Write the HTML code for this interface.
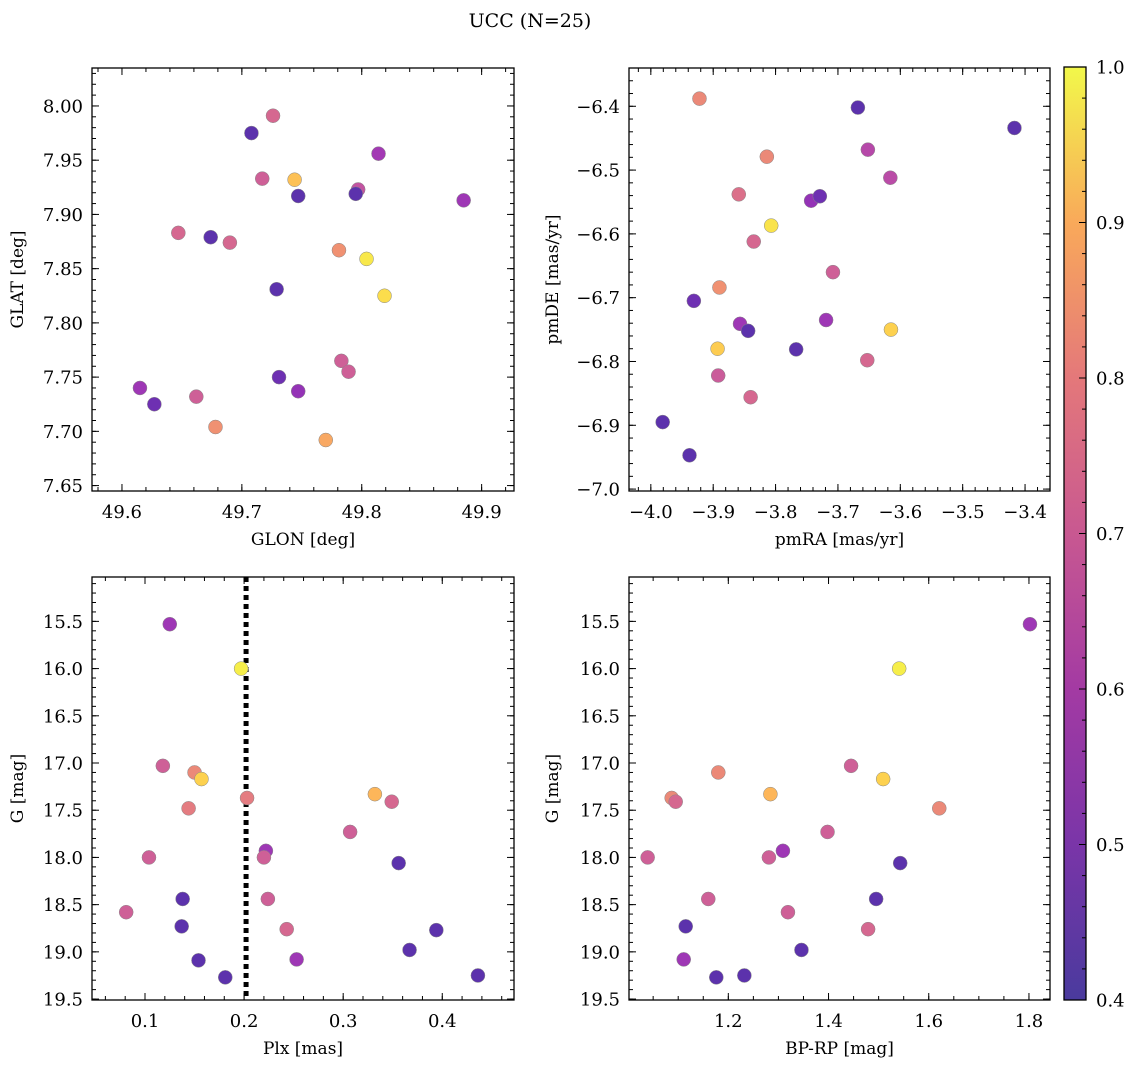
<!DOCTYPE html>
<html><head><meta charset="utf-8">
<style>
html,body{margin:0;padding:0;background:#fff;}
svg{display:block;font-family:"DejaVu Serif","Liberation Serif",serif;}
</style></head>
<body>
<svg id="fig" width="1136" height="1067" viewBox="0 0 1136 1067">
<text x="530" y="27" font-size="19" text-anchor="middle">UCC (N=25)</text>
<defs>
<linearGradient id="cbgrad" x1="0" y1="1" x2="0" y2="0">
<stop offset="0" stop-color="#4a3a9e"/><stop offset="0.167" stop-color="#7a35a8"/>
<stop offset="0.333" stop-color="#a33aa3"/><stop offset="0.5" stop-color="#c85891"/>
<stop offset="0.667" stop-color="#e4787a"/><stop offset="0.833" stop-color="#f9a95a"/>
<stop offset="1" stop-color="#f2f84a"/>
</linearGradient>
</defs>
</svg>
<script>
// ---- data ----
const tlGlon=[49.726,49.708,49.814,49.717,49.744,49.747,49.797,49.795,49.885,49.647,49.674,49.690,49.781,49.804,49.729,49.819,49.615,49.783,49.789,49.731,49.627,49.747,49.662,49.678,49.770];
const tlGlat=[7.991,7.975,7.956,7.933,7.932,7.917,7.923,7.919,7.913,7.883,7.879,7.874,7.867,7.859,7.831,7.825,7.740,7.765,7.755,7.750,7.725,7.737,7.732,7.704,7.692];
const tlProb=[0.70,0.45,0.58,0.68,0.90,0.45,0.65,0.45,0.57,0.70,0.45,0.70,0.80,0.97,0.45,0.95,0.57,0.68,0.68,0.48,0.48,0.55,0.68,0.80,0.85];
const trPmra=[-3.922,-3.668,-3.417,-3.652,-3.616,-3.814,-3.859,-3.743,-3.729,-3.807,-3.835,-3.708,-3.890,-3.931,-3.857,-3.844,-3.615,-3.719,-3.767,-3.893,-3.653,-3.892,-3.840,-3.981,-3.938];
const trPmde=[-6.388,-6.402,-6.434,-6.468,-6.512,-6.479,-6.538,-6.548,-6.541,-6.587,-6.612,-6.660,-6.684,-6.705,-6.741,-6.752,-6.750,-6.735,-6.781,-6.780,-6.798,-6.822,-6.856,-6.895,-6.947];
const trProb=[0.78,0.45,0.45,0.62,0.63,0.78,0.72,0.55,0.48,0.96,0.70,0.68,0.80,0.48,0.57,0.45,0.93,0.57,0.45,0.92,0.70,0.67,0.70,0.45,0.45];
const blPlx=[0.125,0.197,0.118,0.150,0.157,0.144,0.203,0.332,0.349,0.307,0.222,0.220,0.104,0.356,0.138,0.224,0.081,0.137,0.243,0.394,0.367,0.253,0.154,0.181,0.436];
const blG=[15.53,16.00,17.03,17.10,17.17,17.48,17.37,17.33,17.41,17.73,17.93,18.00,18.00,18.06,18.44,18.44,18.58,18.73,18.76,18.77,18.98,19.08,19.09,19.27,19.25];
const blProb=[0.57,0.98,0.68,0.78,0.93,0.75,0.75,0.88,0.70,0.68,0.57,0.68,0.68,0.45,0.45,0.68,0.68,0.45,0.70,0.45,0.45,0.57,0.45,0.45,0.45];
const brBprp=[1.802,1.541,1.180,1.445,1.509,1.621,1.284,1.087,1.095,1.398,1.309,1.281,1.039,1.543,1.495,1.160,1.319,1.115,1.479,1.346,1.111,1.176,1.232];
const brG=[15.53,16.00,17.10,17.03,17.17,17.48,17.33,17.37,17.41,17.73,17.93,18.00,18.00,18.06,18.44,18.44,18.58,18.73,18.76,18.98,19.08,19.27,19.25];
const brProb=[0.57,0.98,0.78,0.68,0.93,0.78,0.88,0.78,0.70,0.68,0.57,0.68,0.68,0.45,0.45,0.68,0.68,0.45,0.70,0.45,0.57,0.45,0.45];
const plxCut=[0.202];
const cbTicks=[0.4,0.5,0.6,0.7,0.8,0.9,1.0];

const NS='http://www.w3.org/2000/svg';
const fig=document.getElementById('fig');
function mk(tag,attrs,parent){const e=document.createElementNS(NS,tag);for(const k in attrs)e.setAttribute(k,attrs[k]);(parent||fig).appendChild(e);return e;}

const stops=[[0,[13,8,135]],[0.1,[65,4,157]],[0.2,[106,0,168]],[0.3,[143,13,164]],[0.4,[177,42,144]],[0.5,[204,71,120]],[0.6,[225,100,98]],[0.7,[242,132,75]],[0.8,[252,166,54]],[0.9,[252,206,37]],[1,[240,249,33]]];
function plasma(v){let t=(v-0.4)/0.6;t=Math.max(0,Math.min(1,t));
 for(let i=0;i<stops.length-1;i++){if(t<=stops[i+1][0]){const f=(t-stops[i][0])/(stops[i+1][0]-stops[i][0]);const a=stops[i][1],b=stops[i+1][1];
 const c=a.map((x,j)=>Math.round((x+(b[j]-x)*f)*0.82+255*0.18));return 'rgb('+c.join(',')+')';}}return '#f2f84a';}

function fmt(v,d){const s=Math.abs(v).toFixed(d);return (v<-1e-9?'\u2212':'')+s;}

function panel(o){
 const g=mk('g',{});
 
 
 const sx=v=>o.x0+(v-o.xmin)/(o.xmax-o.xmin)*(o.x1-o.x0);
 const sy=o.invert?(v=>o.y0+(v-o.ymin)/(o.ymax-o.ymin)*(o.y1-o.y0)):(v=>o.y1-(v-o.ymin)/(o.ymax-o.ymin)*(o.y1-o.y0));
 const tk=mk('g',{stroke:'#000','stroke-width':1},g);
 
 
 function ticks(min,max,step,len,axis,label,dec){
  const lo=Math.min(min,max),hi=Math.max(min,max);
  for(let k=Math.ceil(lo/step-1e-6);k*step<=hi+1e-9;k++){const v=k*step;
   if(axis==='x'){const x=sx(v);mk('line',{x1:x,x2:x,y1:o.y1,y2:o.y1-len},tk);mk('line',{x1:x,x2:x,y1:o.y0,y2:o.y0+len},tk);
    if(label){const t=mk('text',{x:x,y:o.y1+27,'font-size':18,'text-anchor':'middle',stroke:'none'},g);t.textContent=fmt(v,dec);}}
   else{const y=sy(v);mk('line',{y1:y,y2:y,x1:o.x0,x2:o.x0+len},tk);mk('line',{y1:y,y2:y,x1:o.x1,x2:o.x1-len},tk);
    if(label){const t=mk('text',{x:o.x0-9,y:y+6.5,'font-size':18,'text-anchor':'end',stroke:'none'},g);t.textContent=fmt(v,dec);}}
  }}
 ticks(o.xmin,o.xmax,o.xmaj,7,'x',true,o.xdec);ticks(o.xmin,o.xmax,o.xmin_,4,'x',false);
 ticks(o.ymin,o.ymax,o.ymaj,7,'y',true,o.ydec);ticks(o.ymin,o.ymax,o.ymin_,4,'y',false);
 const fr=mk('rect',{x:o.x0,y:o.y0,width:o.x1-o.x0,height:o.y1-o.y0,fill:'none',stroke:'#000','stroke-width':1.3},g);
 
 
 if(o.vline){for(const v of o.vline){const l=mk('line',{x1:sx(v),x2:sx(v),y1:o.y0,y2:o.y1,stroke:'#000','stroke-width':5,'stroke-dasharray':'5,4'},g);
  
  }}
 for(let i=0;i<o.xs.length;i++){const c=mk('circle',{cx:sx(o.xs[i]),cy:sy(o.ys[i]),r:7,fill:plasma(o.cs[i]),stroke:'#888','stroke-width':0.5},g);
  
  }
 const xl=mk('text',{x:(o.x0+o.x1)/2,y:o.y1+54,'font-size':17,'text-anchor':'middle'},g);xl.textContent=o.xlabel;
 
 
 const cy=(o.y0+o.y1)/2;
 const yl=mk('text',{x:o.ylx,y:cy,'font-size':17,'text-anchor':'middle',transform:'rotate(-90 '+o.ylx+' '+cy+')'},g);yl.textContent=o.ylabel;
 
 
}

panel({name:'glon-glat-panel',x0:92,x1:514,y0:68,y1:491,xmin:49.575,xmax:49.927,ymin:7.645,ymax:8.035,xmaj:0.1,xmin_:0.02,ymaj:0.05,ymin_:0.01,xdec:1,ydec:2,xs:tlGlon,ys:tlGlat,cs:tlProb,xlabel:'GLON [deg]',ylabel:'GLAT [deg]',ylx:23});
panel({name:'pm-panel',x0:629,x1:1050,y0:68,y1:491,xmin:-4.035,xmax:-3.36,ymin:-7.003,ymax:-6.34,xmaj:0.1,xmin_:0.02,ymaj:0.1,ymin_:0.02,xdec:1,ydec:1,xs:trPmra,ys:trPmde,cs:trProb,xlabel:'pmRA [mas/yr]',ylabel:'pmDE [mas/yr]',ylx:558});
panel({name:'plx-g-panel',x0:92,x1:514,y0:577,y1:1000,xmin:0.0465,xmax:0.4724,ymin:15.03,ymax:19.51,invert:true,xmaj:0.1,xmin_:0.02,ymaj:0.5,ymin_:0.1,xdec:1,ydec:1,xs:blPlx,ys:blG,cs:blProb,xlabel:'Plx [mas]',ylabel:'G [mag]',ylx:23,vline:plxCut});
panel({name:'cmd-panel',x0:629,x1:1050,y0:577,y1:1000,xmin:1.0018,xmax:1.842,ymin:15.03,ymax:19.51,invert:true,xmaj:0.2,xmin_:0.05,ymaj:0.5,ymin_:0.1,xdec:1,ydec:1,xs:brBprp,ys:brG,cs:brProb,xlabel:'BP-RP [mag]',ylabel:'G [mag]',ylx:558});

const cb=mk('g',{});


const cbx0=1064,cbx1=1086,cby0=67,cby1=1000;
mk('rect',{x:cbx0,y:cby0,width:cbx1-cbx0,height:cby1-cby0,fill:'url(#cbgrad)',stroke:'#000','stroke-width':1.3},cb);
const cbY=v=>cby1-(v-0.4)/0.6*(cby1-cby0);
for(let k=0;k<=30;k++){const v=0.4+k*0.02;const y=cbY(v);const major=(k%5===0);
 mk('line',{x1:cbx1,x2:cbx1-(major?7:4),y1:y,y2:y,stroke:'#000','stroke-width':1},cb);}
for(const v of cbTicks){const t=mk('text',{x:1096,y:cbY(v)+6.5,'font-size':18},cb);t.textContent=v.toFixed(1);
 
 }
</script>
</body></html>
